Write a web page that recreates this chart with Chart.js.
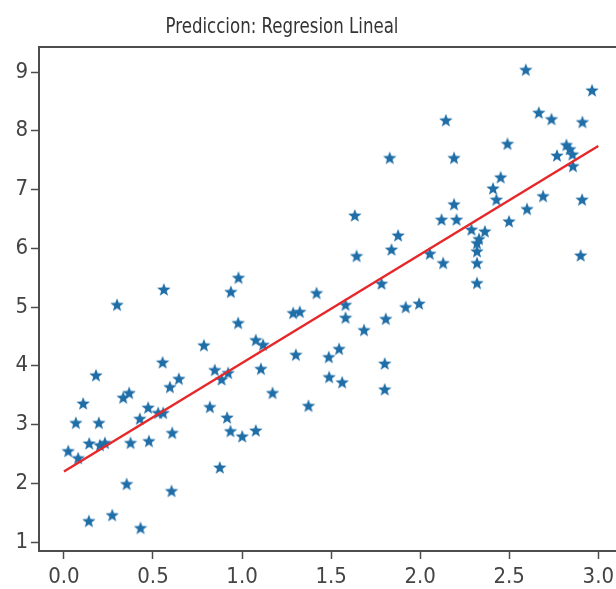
<!DOCTYPE html>
<html>
<head>
<meta charset="utf-8">
<title>Prediccion: Regresion Lineal</title>
<script src="https://cdn.jsdelivr.net/npm/chart.js@4.4.1/dist/chart.umd.min.js"></script>
<style>
    html, body { margin: 0; padding: 0; background: #fff; overflow: hidden; }
    #wrap { width: 640px; height: 589px; }
</style>
</head>
<body>
<div id="wrap"><canvas id="grafico" width="640" height="589"></canvas></div>
<script>
// muestras (x, y)
const xMuestras = [
    0.024, 0.067, 0.080, 0.108, 0.142, 0.140, 0.180, 0.196, 0.202, 0.230,
    0.271, 0.298, 0.333, 0.352, 0.366, 0.374, 0.426, 0.430, 0.473, 0.477,
    0.529, 0.557, 0.554, 0.561, 0.595, 0.608, 0.604, 0.645, 0.786, 0.819,
    0.847, 0.875, 0.885, 0.916, 0.922, 0.935, 0.937, 0.978, 0.980, 1.001,
    1.077, 1.077, 1.106, 1.118, 1.171, 1.287, 1.302, 1.324, 1.373, 1.418,
    1.487, 1.489, 1.545, 1.562, 1.581, 1.581, 1.633, 1.643, 1.685, 1.783,
    1.801, 1.801, 1.807, 1.829, 1.839, 1.876, 1.919, 1.994, 2.054, 2.120,
    2.129, 2.144, 2.190, 2.190, 2.204, 2.288, 2.319, 2.319, 2.319, 2.319,
    2.330, 2.363, 2.409, 2.428, 2.452, 2.490, 2.499, 2.593, 2.600, 2.666,
    2.690, 2.737, 2.768, 2.821, 2.840, 2.855, 2.858, 2.901, 2.909, 2.911,
    2.965
];
const yMuestras = [
    2.54, 3.02, 2.42, 3.35, 2.67, 1.35, 3.83, 3.02, 2.64, 2.68,
    1.45, 5.03, 3.45, 1.98, 3.53, 2.68, 3.09, 1.23, 3.28, 2.71,
    3.19, 3.19, 4.05, 5.29, 3.63, 2.85, 1.86, 3.77, 4.34, 3.29,
    3.92, 2.26, 3.76, 3.11, 3.87, 2.88, 5.25, 4.72, 5.49, 2.79,
    2.89, 4.43, 3.94, 4.35, 3.53, 4.89, 4.18, 4.91, 3.31, 5.23,
    4.14, 3.80, 4.28, 3.71, 5.03, 4.81, 6.55, 5.86, 4.60, 5.39,
    4.03, 3.59, 4.79, 7.53, 5.97, 6.21, 4.99, 5.05, 5.90, 6.48,
    5.74, 8.17, 7.53, 6.74, 6.48, 6.31, 6.08, 5.94, 5.74, 5.40,
    6.15, 6.28, 7.01, 6.82, 7.20, 7.77, 6.45, 9.03, 6.66, 8.30,
    6.88, 8.19, 7.57, 7.75, 7.68, 7.59, 7.39, 5.87, 6.82, 8.14,
    8.68
];

// recta de la prediccion
const xRecta = [0, 3];
const yRecta = [2.2, 7.74];

const ticksX = [0, 0.5, 1, 1.5, 2, 2.5, 3];
const ticksY = [1, 2, 3, 4, 5, 6, 7, 8, 9];

const fuente = "'DejaVu Sans Condensed', 'DejaVu Sans', sans-serif";
const colorEjes = "#4d4d4d";

// marcador de estrella relleno
function crearEstrella(r, color) {
    const c = document.createElement("canvas");
    const s = Math.ceil(r * 2) + 2;
    c.width = s;
    c.height = s;
    const g = c.getContext("2d");
    g.fillStyle = color;
    g.beginPath();
    for (let i = 0; i < 10; i++) {
        const rad = i % 2 ? r * 0.42 : r;
        const a = -Math.PI / 2 + i * Math.PI / 5;
        const px = s / 2 + rad * Math.cos(a);
        const py = s / 2 + rad * Math.sin(a);
        if (i === 0) g.moveTo(px, py); else g.lineTo(px, py);
    }
    g.closePath();
    g.fill();
    return c;
}

// marco y titulo
const marco = {
    id: "marco",
    afterDraw(chart) {
        const { ctx, chartArea } = chart;
        ctx.save();
        ctx.strokeStyle = colorEjes;
        ctx.lineWidth = 2;
        ctx.strokeRect(chartArea.left, chartArea.top,
            chartArea.right - chartArea.left, chartArea.bottom - chartArea.top);
        ctx.fillStyle = "#333";
        ctx.font = "22px " + fuente;
        ctx.textAlign = "center";
        ctx.textBaseline = "alphabetic";
        ctx.translate(282, 33);
        ctx.scale(0.84, 1);
        ctx.fillText("Prediccion: Regresion Lineal", 0, 0);
        ctx.restore();
    }
};

const ctx = document.getElementById("grafico").getContext("2d");
new Chart(ctx, {
    type: "scatter",
    data: {
        datasets: [
            {
                type: "line",
                label: "Prediccion",
                data: xRecta.map((x, i) => ({ x, y: yRecta[i] })),
                borderColor: "rgb(230, 40, 42)",
                borderWidth: 2.5,
                pointRadius: 0,
                fill: false,
                order: 0
            },
            {
                label: "Datos",
                data: xMuestras.map((x, i) => ({ x, y: yMuestras[i] })),
                pointStyle: crearEstrella(7, "#1f6ea8"),
                order: 1
            }
        ]
    },
    options: {
        responsive: false,
        animation: false,
        events: [],
        layout: { padding: { top: 47, right: 15, left: 0, bottom: 0 } },
        plugins: {
            legend: { display: false },
            title: { display: false },
            tooltip: { enabled: false }
        },
        scales: {
            x: {
                type: "linear",
                min: -0.14,
                max: 3.15,
                afterFit: s => { s.height = 38; },
                afterBuildTicks: s => { s.ticks = ticksX.map(v => ({ value: v })); },
                border: { display: false },
                grid: { drawOnChartArea: false, drawTicks: true, tickLength: 8, tickColor: colorEjes, tickWidth: 1.5 },
                ticks: {
                    padding: 5,
                    color: "#444",
                    font: { family: fuente, size: 22 },
                    maxRotation: 0,
                    callback: v => Number(v).toFixed(1)
                }
            },
            y: {
                type: "linear",
                min: 0.847,
                max: 9.426,
                afterFit: s => { s.width = 39; },
                afterBuildTicks: s => { s.ticks = ticksY.map(v => ({ value: v })); },
                border: { display: false },
                grid: { drawOnChartArea: false, drawTicks: true, tickLength: 8, tickColor: colorEjes, tickWidth: 1.5 },
                ticks: {
                    padding: 3,
                    color: "#444",
                    font: { family: fuente, size: 22 },
                    callback: v => String(v)
                }
            }
        }
    },
    plugins: [marco]
});
</script>
</body>
</html>
